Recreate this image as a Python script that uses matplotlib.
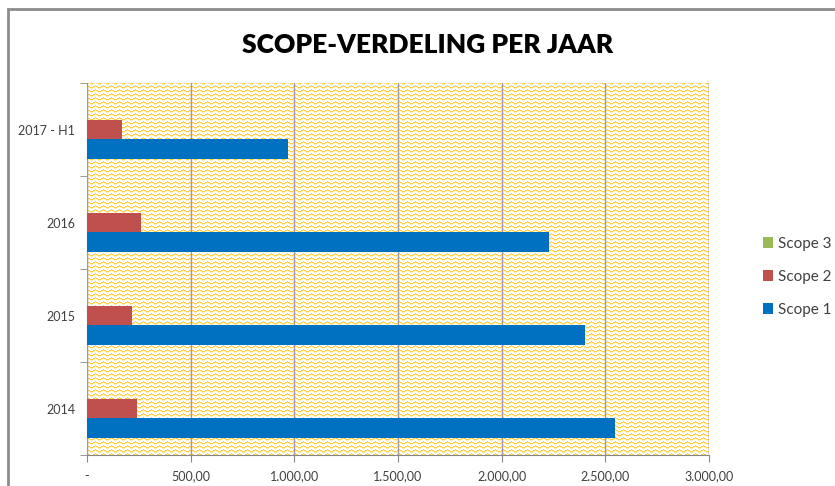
import numpy as np
import matplotlib
matplotlib.use("Agg")
from matplotlib import pyplot as plt
from matplotlib.patches import Rectangle

years = ["2014", "2015", "2016", "2017 - H1"]
scope1 = [2547, 2402, 2228, 969]
scope2 = [241, 217, 260, 169]
scope3 = [0, 0, 0, 0]
xticks = [0, 500, 1000, 1500, 2000, 2500, 3000]
xticklabels = ["-", "500,00", "1.000,00", "1.500,00", "2.000,00", "2.500,00", "3.000,00"]

plt.rcParams['font.family'] = ['Lato', 'DejaVu Sans']

fig = plt.figure(figsize=(8.35, 4.86), dpi=100)
ax = fig.add_axes([87/835, 1-455/486, 622/835, 372/486])

# zigzag pattern fill of the plot area (texture only)
h, w = 372, 622
r = np.arange(h)[:, None]
c = np.arange(w)[None, :]
tri = np.abs((c % 8) - 4) // 2
row = (r + tri) % 4
img = np.ones((h, w, 3))
img[np.broadcast_to(row == 0, (h, w))] = np.array([255, 204, 60]) / 255
img[np.broadcast_to(row == 1, (h, w))] = np.array([255, 238, 190]) / 255
ax.imshow(img, extent=[0, 3000, -0.5, 3.5], aspect='auto',
          interpolation='nearest', zorder=0)

y = np.arange(len(years))
bh = 0.215
ax.barh(y - bh, scope1, height=bh, color="#0070C0", label="Scope 1", zorder=3)
ax.barh(y, scope2, height=bh, color="#C0504D", label="Scope 2", zorder=3)
ax.barh(y + bh, scope3, height=bh, color="#9BBB59", label="Scope 3", zorder=3)

ax.set_xlim(0, 3000)
ax.set_ylim(-0.5, 3.5)
ax.set_xticks(xticks)
ax.set_xticklabels(xticklabels, fontsize=9, color="#404040")
ax.set_yticks(y)
ax.set_yticklabels(years, fontsize=9, color="#404040")
ax.set_yticks(np.arange(-0.5, 4, 1), minor=True)
ax.tick_params(axis='y', which='major', length=0, pad=8.5)
ax.tick_params(axis='y', which='minor', length=5, color="#888888")
ax.tick_params(axis='x', length=5, color="#888888", pad=6)
ax.grid(axis='x', color="#9a9a9a", linewidth=1, zorder=1)
ax.set_axisbelow(False)
for s in ['top', 'right']:
    ax.spines[s].set_visible(False)
for s in ['left', 'bottom']:
    ax.spines[s].set_color("#888888")
ax.axvline(3000, color="#9a9a9a", linewidth=1, zorder=1)

handles, labels = ax.get_legend_handles_labels()
leg = fig.legend(handles[::-1], labels[::-1], loc='center left',
                 bbox_to_anchor=(749/835, 1-277/486), frameon=False,
                 fontsize=11, handlelength=0.7, handleheight=0.7,
                 labelspacing=1.25, handletextpad=0.3, labelcolor="#404040")

fig.text(428/835, 1-45/486, "SCOPE-VERDELING PER JAAR", ha='center', va='center',
         fontsize=19, fontweight='heavy', color="black")

fig.patches.append(Rectangle((8/835, -0.1), 1.2, 1.1 - 9/486, transform=fig.transFigure,
                             fill=False, edgecolor="#8c8c8c", linewidth=2))

fig.savefig("out.png", dpi=100)
